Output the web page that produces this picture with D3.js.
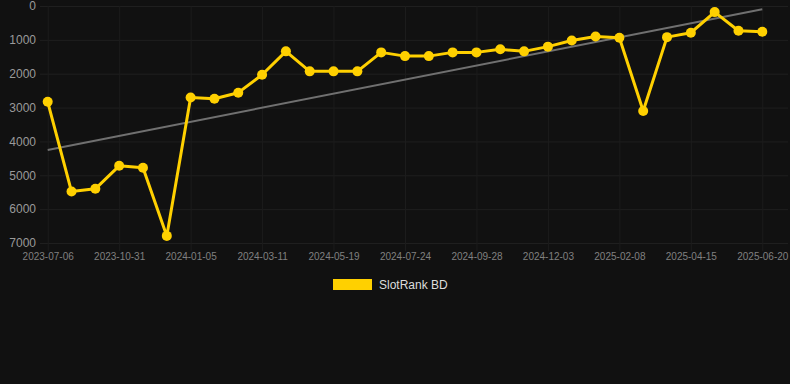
<!DOCTYPE html>
<html>
<head>
<meta charset="utf-8">
<script src="https://cdn.jsdelivr.net/npm/d3@7/dist/d3.min.js"></script>
<style>
  html, body { margin: 0; padding: 0; background: #111111; }
  svg { display: block; }
</style>
</head>
<body>
<svg id="chart" width="790" height="384"></svg>
<script>
const categories = [
  "2023-07-06","2023-08-14","2023-09-22","2023-10-31","2023-11-22","2023-12-14",
  "2024-01-05","2024-01-27","2024-02-18","2024-03-11","2024-04-03","2024-04-26",
  "2024-05-19","2024-06-10","2024-07-02","2024-07-24","2024-08-15","2024-09-06",
  "2024-09-28","2024-10-20","2024-11-11","2024-12-03","2024-12-25","2025-01-17",
  "2025-02-08","2025-03-02","2025-03-24","2025-04-15","2025-05-07","2025-05-29",
  "2025-06-20"
];
const rankValues = [
  2830, 5480, 5400, 4720, 4775, 6790,
  2700, 2740, 2560, 2030, 1340, 1930,
  1930, 1930, 1370, 1480, 1480, 1370,
  1370, 1280, 1340, 1200, 1020, 900,
  940, 3100, 920, 790, 180, 730,
  760
];
const xTickLabels = ["2023-07-06","2023-10-31","2024-01-05","2024-03-11","2024-05-19",
  "2024-07-24","2024-09-28","2024-12-03","2025-02-08","2025-04-15","2025-06-20"];
const yTickValues = [0, 1000, 2000, 3000, 4000, 5000, 6000, 7000];
const seriesName = "SlotRank BD";

const svg = d3.select("#chart");
const W = 790, H = 384;
const plotLeft = 40, plotRight = 788, plotTop = 6, plotBottom = 243;

const x = d3.scalePoint().domain(categories).range([47.7, 762.3]);
const y = d3.scaleLinear().domain([0, 7000]).range([plotTop, plotBottom]);

svg.append("rect").attr("width", W).attr("height", H).attr("fill", "#111111");

// horizontal grid
const gY = svg.append("g").attr("transform", `translate(${plotLeft},0)`)
  .call(d3.axisLeft(y).tickValues(yTickValues).tickSize(-(plotRight - plotLeft)).tickPadding(4).tickFormat(d3.format("d")));
gY.select(".domain").remove();
gY.selectAll(".tick line").attr("stroke", "#1f1f1f").attr("stroke-width", 1);
gY.selectAll(".tick text").attr("fill", "#9a9a9a").attr("font-family", "Liberation Sans, Arial, sans-serif").attr("font-size", 12);

// vertical grid
const gX = svg.append("g").attr("transform", `translate(0,${plotBottom})`)
  .call(d3.axisBottom(x).tickValues(xTickLabels).tickSize(-(plotBottom - plotTop)).tickPadding(10));
gX.select(".domain").remove();
gX.selectAll(".tick line").attr("stroke", "#1c1c1c").attr("stroke-width", 1);
gX.selectAll(".tick text").attr("fill", "#808080").attr("font-family", "Liberation Sans, Arial, sans-serif").attr("font-size", 10);
// small tick marks below axis
gX.selectAll(".tick").append("line").attr("y1", 0).attr("y2", 8).attr("stroke", "#1c1c1c");

// trend line (least squares over index)
const n = rankValues.length;
const idx = d3.range(n);
const mx = d3.mean(idx), my = d3.mean(rankValues);
const slope = d3.sum(idx, i => (i - mx) * (rankValues[i] - my)) / d3.sum(idx, i => (i - mx) * (i - mx));
const intercept = my - slope * mx;
svg.append("line")
  .attr("x1", x(categories[0])).attr("y1", y(intercept))
  .attr("x2", x(categories[n - 1])).attr("y2", y(intercept + slope * (n - 1)))
  .attr("stroke", "#707070").attr("stroke-width", 2);

// data line
const line = d3.line().x((d, i) => x(categories[i])).y(d => y(d));
svg.append("path").datum(rankValues).attr("d", line)
  .attr("fill", "none").attr("stroke", "#FFD000").attr("stroke-width", 3).attr("stroke-linejoin", "round");

svg.append("g").selectAll("circle").data(rankValues).join("circle")
  .attr("cx", (d, i) => x(categories[i])).attr("cy", d => y(d)).attr("r", 5)
  .attr("fill", "#FFD000");

// legend
const lg = svg.append("g");
lg.append("rect").attr("x", 333).attr("y", 279).attr("width", 39).attr("height", 11).attr("fill", "#FFD000");
lg.append("text").attr("x", 379).attr("y", 289).text(seriesName)
  .attr("fill", "#dddddd").attr("font-family", "Liberation Sans, Arial, sans-serif").attr("font-size", 12);
</script>
</body>
</html>
